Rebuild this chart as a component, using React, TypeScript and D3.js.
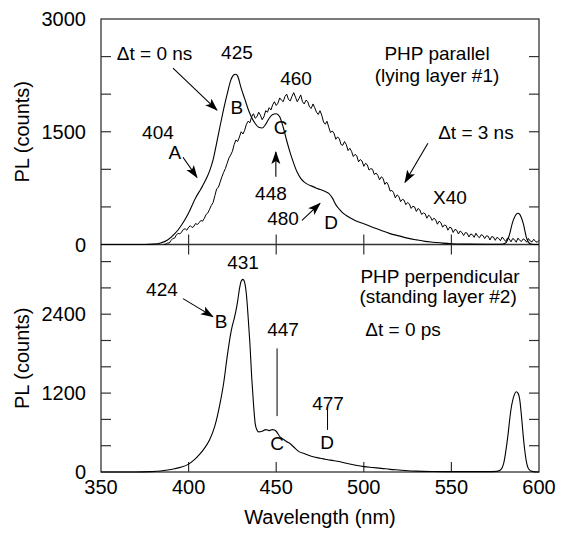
import React from 'react';
import * as d3 from 'd3';

// top panel, dt = 0 ns (wavelength nm, counts)
const wlTop0 = [350, 375, 380, 384, 388, 392, 396, 400, 404, 406, 408, 410, 412, 414, 416, 418, 420, 422, 424, 426, 427, 428, 430, 432, 434, 436, 438, 440, 442, 444, 446, 448, 450, 452, 454, 456, 458, 460, 462, 464, 466, 468, 470, 472, 474, 476, 478, 480, 482, 484, 486, 488, 490, 495, 500, 505, 510, 515, 520, 525, 530, 535, 540, 545, 550, 560, 570, 578, 581, 583, 585, 587, 588, 589, 591, 593, 595, 597, 600];
const plTop0 = [0, 0, 5, 20, 60, 140, 260, 420, 620, 700, 780, 870, 980, 1130, 1350, 1580, 1800, 2000, 2180, 2260, 2265, 2240, 2080, 1940, 1800, 1690, 1610, 1560, 1550, 1600, 1680, 1730, 1740, 1700, 1560, 1380, 1220, 1080, 960, 880, 830, 800, 780, 760, 740, 725, 705, 680, 620, 530, 470, 420, 385, 320, 275, 230, 185, 145, 115, 85, 62, 42, 30, 18, 10, 5, 3, 3, 20, 120, 300, 400, 415, 400, 280, 80, 10, 0, 0];

// top panel, dt = 3 ns (x40), every 1 nm from 386
const wlTop3 = d3.range(386, 601, 1);
const plTop3 = [
  0, 5, 20, 20, 55, 80, 85, 125, 150, 140,
  165, 200, 210, 190, 230, 250, 225, 240, 280, 265,
  290, 320, 310, 350, 400, 420, 470, 520, 560, 650,
  740, 760, 830, 900, 960, 1010, 1080, 1150, 1190, 1240,
  1330, 1390, 1370, 1430, 1500, 1470, 1520, 1600, 1640, 1620,
  1700, 1740, 1680, 1700, 1760, 1720, 1660, 1700, 1780, 1760,
  1820, 1790, 1860, 1900, 1850, 1880, 1950, 1920, 1900, 1970,
  2000, 1930, 1910, 1970, 2020, 1960, 1900, 1940, 1990, 1900,
  1870, 1920, 1900, 1830, 1810, 1870, 1820, 1760, 1730, 1780,
  1720, 1630, 1600, 1640, 1560, 1490, 1510, 1480, 1400, 1430,
  1410, 1330, 1320, 1370, 1330, 1250, 1280, 1240, 1170, 1200,
  1180, 1100, 1130, 1110, 1040, 1080, 1060, 990, 1010, 1000,
  930, 950, 920, 860, 900, 880, 800, 830, 790, 710,
  720, 690, 620, 660, 640, 570, 600, 590, 530, 560,
  540, 480, 510, 500, 440, 480, 460, 400, 420, 410,
  350, 390, 370, 320, 350, 330, 270, 310, 290, 230,
  260, 250, 190, 230, 220, 160, 200, 190, 140, 180,
  160, 120, 160, 150, 100, 140, 130, 95, 150, 110,
  90, 130, 120, 80, 115, 110, 60, 105, 100, 55,
  95, 80, 50, 100, 70, 40, 85, 75, 35, 80,
  65, 30, 85, 55, 40, 75, 60, 30, 80, 45,
  35, 70, 40, 30, 55,
];

// bottom panel, dt = 0 ps
const wlBot = [350, 370, 378, 384, 388, 392, 396, 400, 403, 406, 409, 412, 415, 418, 420, 422, 424, 425, 426, 427, 428, 429, 430, 431, 432, 433, 434, 435, 436, 437, 438, 439, 440, 442, 444, 446, 448, 450, 452, 454, 456, 458, 460, 463, 466, 470, 475, 478, 481, 486, 490, 495, 500, 505, 510, 515, 520, 525, 530, 540, 550, 570, 576, 578, 580, 582, 584, 586, 587, 588, 589, 590, 591, 592, 593, 594, 596, 600];
const plBot = [0, 0, 5, 15, 30, 50, 75, 120, 180, 260, 360, 490, 700, 1050, 1350, 1750, 2100, 2230, 2330, 2450, 2600, 2780, 2900, 2930, 2880, 2700, 2350, 1950, 1450, 1050, 740, 640, 610, 620, 645, 630, 645, 620, 540, 500, 460, 430, 380, 310, 280, 240, 210, 195, 180, 160, 132, 105, 82, 68, 55, 40, 30, 20, 14, 8, 5, 5, 10, 30, 150, 500, 950, 1180, 1220, 1200, 1100, 850, 550, 300, 130, 50, 10, 0];

const xTicks = [350, 400, 450, 500, 550, 600];
const topLabels = [0, 1500, 3000];
const topMinor = [500, 1000, 1500, 2000, 2500];
const botLabels = [0, 1200, 2400];
const botMinor = [400, 800, 1200, 1600, 2000, 2400, 2800, 3200];

// annotation texts placed in data units [wavelength, counts]
const topTexts: [string, number, number, string][] = [
  ['\u0394t = 0 ns', 359, 2547, 'start'],
  ['425', 427.6, 2560, 'middle'],
  ['404', 382.5, 1493, 'middle'],
  ['A', 392.2, 1227, 'middle'],
  ['B', 427.6, 1827, 'middle'],
  ['C', 452.5, 1560, 'middle'],
  ['448', 447, 680, 'middle'],
  ['460', 461.3, 2213, 'middle'],
  ['480', 453.9, 347, 'middle'],
  ['D', 481.3, 293, 'middle'],
  ['\u0394t = 3 ns', 564, 1493, 'middle'],
  ['X40', 549.2, 627, 'middle'],
  ['PHP parallel', 541.8, 2547, 'middle'],
  ['(lying layer #1)', 541.8, 2253, 'middle'],
];
const topArrows: [number, number, number, number][] = [
  [396.8, 1160, 404.8, 893],
  [391.1, 2347, 416.2, 1787],
  [449.8, 900, 449.8, 1230],
  [464.7, 320, 475, 547],
  [536.6, 1347, 523.5, 827],
];
const botTexts: [string, number, number, string][] = [
  ['431', 431.1, 3186, 'middle'],
  ['424', 384.8, 2774, 'middle'],
  ['B', 418.5, 2287, 'middle'],
  ['447', 453.9, 2165, 'middle'],
  ['C', 450.5, 442, 'middle'],
  ['477', 479.6, 1052, 'middle'],
  ['D', 479, 457, 'middle'],
  ['PHP perpendicular', 543.5, 2973, 'middle'],
  ['(standing layer #2)', 542.4, 2668, 'middle'],
  ['\u0394t = 0 ps', 522.4, 2165, 'middle'],
];
const botArrows: [number, number, number, number][] = [[396.8, 2637, 413.9, 2363]];
const botLines: [number, number, number, number][] = [
  [450.5, 1880, 450.5, 850],
  [479.3, 945, 479.3, 640],
];

const W = 561;
const H = 533;
const left = 101;
const right = 539;

const x = d3.scaleLinear().domain([350, 600]).range([left, right]);
const yTop = d3.scaleLinear().domain([0, 3000]).range([244.5, 19]);
const yBot = d3.scaleLinear().domain([0, 3460]).range([472, 244.5]);

const App = () => {
  const lineTop = d3.line<number>().x((d, i) => x(wlTop0[i])).y((d) => yTop(d)).curve(d3.curveMonotoneX);
  const lineTop3 = d3.line<number>().x((d, i) => x(wlTop3[i])).y((d) => yTop(d));
  const lineBot = d3.line<number>().x((d, i) => x(wlBot[i])).y((d) => yBot(d)).curve(d3.curveMonotoneX);
  const font = "'Liberation Sans', Arial, Helvetica, sans-serif";
  const frame = '#333';
  const tl = 10;

  return (
    <svg width={W} height={H} style={{ position: 'absolute', left: 0, top: 0, background: '#fff' }} fontFamily={font}>
      <defs>
        <marker id="ah" markerUnits="userSpaceOnUse" markerWidth="14" markerHeight="10" refX="12" refY="4.5" orient="auto">
          <path d="M0,0 L13,4.5 L0,9 L3,4.5 z" fill="#000" />
        </marker>
      </defs>

      {/* frames */}
      <rect x={left} y={yTop(3000)} width={right - left} height={yBot(0) - yTop(3000)} fill="none" stroke={frame} strokeWidth={1.3} />
      <line x1={left} x2={right} y1={yTop(0)} y2={yTop(0)} stroke={frame} strokeWidth={1.3} />

      {/* y ticks */}
      {topMinor.map((v) => (
        <g key={'tm' + v} stroke={frame} strokeWidth={1.2}>
          <line x1={left} x2={left + tl} y1={yTop(v)} y2={yTop(v)} />
          <line x1={right} x2={right - tl} y1={yTop(v)} y2={yTop(v)} />
        </g>
      ))}
      {botMinor.map((v) => (
        <g key={'bm' + v} stroke={frame} strokeWidth={1.2}>
          <line x1={left} x2={left + tl} y1={yBot(v)} y2={yBot(v)} />
          <line x1={right} x2={right - tl} y1={yBot(v)} y2={yBot(v)} />
        </g>
      ))}
      {/* x ticks */}
      {xTicks.slice(1, -1).map((v) => (
        <g key={'xt' + v} stroke={frame} strokeWidth={1.2}>
          <line x1={x(v)} x2={x(v)} y1={yTop(0)} y2={yTop(0) - tl} />
          <line x1={x(v)} x2={x(v)} y1={yBot(3460)} y2={yBot(3460) + tl} />
          <line x1={x(v)} x2={x(v)} y1={yBot(0)} y2={yBot(0) - tl} />
        </g>
      ))}

      {/* tick labels */}
      <g fontSize={20} fill="#000">
        {topLabels.map((v) => (
          <text key={'tl' + v} x={left - 15} y={yTop(v)} dy="0.36em" textAnchor="end">{v}</text>
        ))}
        {botLabels.map((v) => (
          <text key={'bl' + v} x={left - 15} y={yBot(v)} dy="0.36em" textAnchor="end">{v}</text>
        ))}
        {xTicks.map((v) => (
          <text key={'xl' + v} x={x(v)} y={yBot(0) + 15} dy="0.36em" textAnchor="middle">{v}</text>
        ))}
        <text x={(left + right) / 2} y={517} dy="0.36em" textAnchor="middle">Wavelength (nm)</text>
        <text transform={`translate(22,${(yTop(0) + yTop(3000)) / 2}) rotate(-90)`} dy="0.36em" textAnchor="middle">PL (counts)</text>
        <text transform={`translate(22,${(yBot(0) + yBot(3460)) / 2}) rotate(-90)`} dy="0.36em" textAnchor="middle">PL (counts)</text>
      </g>

      {/* curves */}
      <path d={lineTop(plTop0) || ''} fill="none" stroke="#000" strokeWidth={1.1} />
      <path d={lineTop3(plTop3) || ''} fill="none" stroke="#000" strokeWidth={1} strokeLinejoin="round" />
      <path d={lineBot(plBot) || ''} fill="none" stroke="#000" strokeWidth={1.1} />

      {/* annotations */}
      <g fontSize={19} fill="#000">
        {topTexts.map(([t, wx, wy, a], i) => (
          <text key={'tt' + i} x={x(wx)} y={yTop(wy)} dy="0.36em" textAnchor={a as any}>{t}</text>
        ))}
        {botTexts.map(([t, wx, wy, a], i) => (
          <text key={'bt' + i} x={x(wx)} y={yBot(wy)} dy="0.36em" textAnchor={a as any}>{t}</text>
        ))}
      </g>
      {topArrows.map(([x1, y1, x2, y2], i) => (
        <line key={'ta' + i} x1={x(x1)} y1={yTop(y1)} x2={x(x2)} y2={yTop(y2)} stroke="#000" strokeWidth={1.1} markerEnd="url(#ah)" />
      ))}
      {botArrows.map(([x1, y1, x2, y2], i) => (
        <line key={'ba' + i} x1={x(x1)} y1={yBot(y1)} x2={x(x2)} y2={yBot(y2)} stroke="#000" strokeWidth={1.1} markerEnd="url(#ah)" />
      ))}
      {botLines.map(([x1, y1, x2, y2], i) => (
        <line key={'bli' + i} x1={x(x1)} y1={yBot(y1)} x2={x(x2)} y2={yBot(y2)} stroke="#000" strokeWidth={1} />
      ))}
    </svg>
  );
};

export default App;
